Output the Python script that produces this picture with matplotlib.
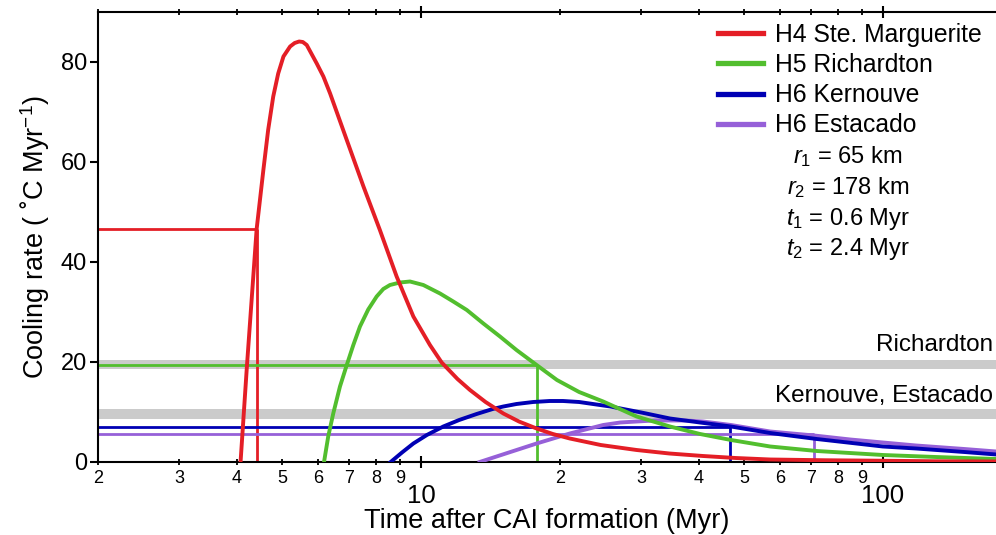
import matplotlib
matplotlib.use("Agg")
import matplotlib.pyplot as plt
from matplotlib.ticker import FixedLocator, FixedFormatter
from matplotlib.transforms import blended_transform_factory

plt.rcParams['font.family'] = ['Liberation Sans', 'DejaVu Sans']
plt.rcParams['mathtext.fontset'] = 'custom'
plt.rcParams['mathtext.rm'] = 'Liberation Sans'
plt.rcParams['mathtext.it'] = 'Liberation Sans:italic'

# courbes (temps en Myr, vitesse en °C/Myr)
t_h4 = [4.07, 4.2, 4.41, 4.56, 4.67, 4.79, 4.91, 5.04, 5.21, 5.33, 5.45, 5.55, 5.66, 5.95,
        6.15, 6.36, 6.91, 7.51, 8.15, 8.86, 9.63, 10.46, 11.09, 12.0, 12.77, 13.8, 15.08,
        16.3, 17.8, 19.3, 21.0, 24.5, 29.3, 34.5, 40.8, 48, 57, 75, 100, 130, 176]
v_h4 = [0, 19, 46.6, 58.4, 66.4, 73.1, 77.7, 81.1, 83.1, 83.8, 84.1, 84.0, 83.4, 79.7,
        77.1, 73.7, 64.4, 55.1, 46.4, 37.1, 29.1, 23.4, 19.9, 16.6, 14.4, 12.0, 9.7,
        8.1, 6.7, 5.6, 4.7, 3.4, 2.4, 1.7, 1.2, 0.8, 0.5, 0.35, 0.25, 0.15, 0.1]

t_h5 = [6.17, 6.30, 6.46, 6.68, 6.91, 7.14, 7.38, 7.69, 8.02, 8.29, 8.57, 9.01, 9.47,
        10.12, 11.0, 11.75, 12.57, 13.65, 14.83, 16.1, 17.8, 19.7, 22, 24.8, 29.3, 34.6,
        40.2, 46.9, 57, 71.9, 100, 130, 176]
v_h5 = [0, 5.1, 9.7, 15.1, 19.4, 23.4, 27.1, 30.5, 33.1, 34.6, 35.4, 35.9, 36.1,
        35.4, 33.7, 32.1, 30.4, 27.7, 25.1, 22.4, 19.4, 16.4, 14.0, 12.1, 9.1, 7.1,
        5.6, 4.4, 3.1, 2.2, 1.4, 1.0, 0.6]

t_kern = [8.6, 9.1, 9.63, 10.3, 11.18, 12.1, 13.2, 14.3, 15.08, 16.1, 17.5, 19.0, 20.3,
          22, 25.7, 30, 34.6, 40.2, 46.9, 57, 71.9, 100, 118, 150, 176]
v_kern = [0, 1.9, 3.7, 5.4, 7.1, 8.4, 9.6, 10.6, 11.1, 11.6, 12.0, 12.2, 12.2,
          12.0, 11.1, 9.9, 8.7, 7.9, 7.1, 5.8, 4.6, 3.1, 2.7, 2.0, 1.5]

t_esta = [13.4, 15.5, 17.8, 21.0, 24.8, 27, 29.3, 32, 34.6, 37.5, 40.8, 46.9, 57, 71,
          85, 100, 118, 150, 176]
v_esta = [0, 1.9, 3.7, 5.7, 7.4, 7.9, 8.1, 8.3, 8.3, 8.3, 8.1, 7.4, 6.1, 5.3,
          4.5, 3.9, 3.3, 2.6, 2.1]

noms = ['H4 Ste. Marguerite', 'H5 Richardton', 'H6 Kernouve', 'H6 Estacado']
couleurs = ['#e41e26', '#52be2e', '#0000b4', '#9660d8']

# temps et vitesse de refroidissement de chaque météorite
t_mesure = [4.41, 17.8, 46.7, 71.0]
v_mesure = [46.6, 19.5, 7.1, 5.6]

# bandes grises (vitesses mesurées)
bandes = [(18.6, 20.5), (8.7, 10.6)]
bandes_noms = ['Richardton', 'Kernouve, Estacado']
bandes_texte_y = [23.4, 13.2]

params = [r'$\mathit{r_1}$ = 65 km', r'$\mathit{r_2}$ = 178 km',
          r'$\mathit{t_1}$ = 0.6 Myr', r'$\mathit{t_2}$ = 2.4 Myr']

xmin, xmax = 2, 175.7

fig = plt.figure(figsize=(9.96, 5.35), dpi=100)
ax = fig.add_axes([98 / 996, 73 / 535, 898 / 996, 450 / 535])

# bandes grises
for (b0, b1) in bandes:
    ax.axhspan(b0, b1, color='#cbcbcb', lw=0, zorder=1)

trans = blended_transform_factory(ax.transAxes, ax.transData)
for nom, y in zip(bandes_noms, bandes_texte_y):
    ax.text(0.9967, y, nom, transform=trans, ha='right', va='center', fontsize=17.5)

# lignes horizontales et verticales
for t, v, c in zip(t_mesure, v_mesure, couleurs):
    ax.plot([xmin, t], [v, v], color=c, lw=2.0, zorder=2, solid_capstyle='butt')
    ax.plot([t, t], [0, v], color=c, lw=2.0, zorder=2, solid_capstyle='butt')

# courbes
series = [(t_h4, v_h4), (t_h5, v_h5), (t_kern, v_kern), (t_esta, v_esta)]
lignes = []
for (t, v), c, nom in zip(series[::-1], couleurs[::-1], noms[::-1]):
    l, = ax.plot(t, v, color=c, lw=2.8, label=nom, zorder=3)
    lignes.append(l)
lignes = lignes[::-1]

ax.set_xscale('log')
ax.set_xlim(xmin, xmax)
ax.set_ylim(0, 90)

# graduations
ax.xaxis.set_major_locator(FixedLocator([10, 100]))
ax.xaxis.set_major_formatter(FixedFormatter(['10', '100']))
mineurs = [2, 3, 4, 5, 6, 7, 8, 9, 20, 30, 40, 50, 60, 70, 80, 90]
ax.xaxis.set_minor_locator(FixedLocator(mineurs))
ax.xaxis.set_minor_formatter(FixedFormatter([str(m)[0] for m in mineurs]))
ax.set_yticks([0, 20, 40, 60, 80])

ax.tick_params(axis='x', which='major', direction='inout', length=9, width=1.5,
               labelsize=18.5, pad=11, top=True)
ax.tick_params(axis='x', which='minor', direction='inout', length=5, width=1.3,
               labelsize=13, pad=3, top=True)
ax.tick_params(axis='y', which='major', direction='out', length=6, width=1.5,
               labelsize=17, pad=2, right=True)
ax.tick_params(axis='y', which='minor', left=False, right=False)

for s in ['left', 'bottom', 'top']:
    ax.spines[s].set_linewidth(1.5)
ax.spines['right'].set_visible(False)

ax.set_xlabel('Time after CAI formation (Myr)', fontsize=19.5)
ax.xaxis.set_label_coords(0.5, -0.103)
ax.set_ylabel('Cooling rate ( ˚C Myr$^{-1}$)', fontsize=19.5, labelpad=6)

# légende
ax.legend(handles=lignes, loc='upper left', bbox_to_anchor=(0.690, 0.976),
          frameon=False, fontsize=17.8, handlelength=1.82, handletextpad=0.49,
          labelspacing=0.25, borderpad=0, borderaxespad=0)
for l in ax.get_legend().get_lines():
    l.set_linewidth(3.8)

# paramètres du modèle
for i, p in enumerate(params):
    ax.text(0.835, 0.678 - 0.0685 * i, p, transform=ax.transAxes, ha='center',
            va='center', fontsize=17)

fig.savefig('out.png', dpi=100)
